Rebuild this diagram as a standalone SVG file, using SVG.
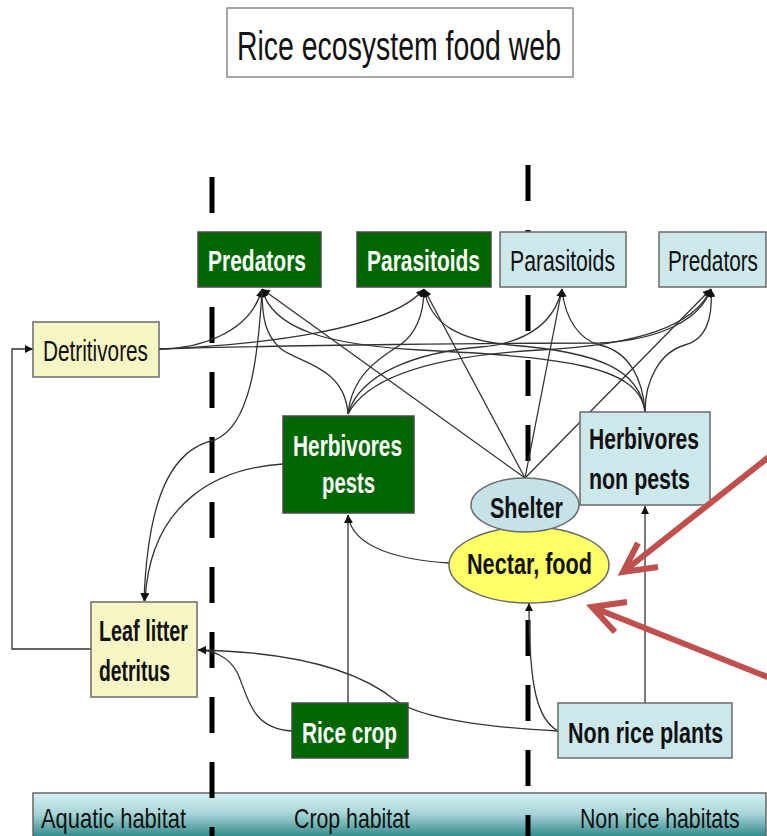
<svg xmlns="http://www.w3.org/2000/svg" width="767" height="836" viewBox="0 0 767 836">
<style>
text{font-family:"Liberation Sans Narrow","Liberation Sans",Arial,sans-serif;font-size:29px}
text.t{font-size:40px}
text.h{font-size:28px}
.w{fill:#fff;font-weight:bold}
.b{fill:#111;font-weight:bold}
.r{fill:#111}
.dg{fill:#006600;stroke:#4a4a4a;stroke-width:1.5}
.lb{fill:#cce8eb;stroke:#6a6a6a;stroke-width:1.5}
.py{fill:#f6f6c4;stroke:#6a6a6a;stroke-width:1.5}
.c{fill:none;stroke:#333;stroke-width:1.3}
.dash{stroke:#000;stroke-width:5;stroke-dasharray:36 29}
.red{fill:none;stroke:#c0504d;stroke-width:6;stroke-linejoin:miter}
</style>
<defs>
<marker id="ah" viewBox="0 0 10 10" refX="10" refY="5" markerWidth="8" markerHeight="8" orient="auto" markerUnits="userSpaceOnUse"><path d="M0,0 L10,5 L0,10 z" fill="#111"/></marker>
<linearGradient id="bar" x1="0" y1="0" x2="0" y2="1">
<stop offset="0" stop-color="#d6eff1"/><stop offset="0.45" stop-color="#a9d6d9"/><stop offset="1" stop-color="#2b8686"/>
</linearGradient>
</defs>
<rect width="767" height="836" fill="#fff"/>

<g id="title">
<rect x="227" y="8" width="346" height="69" fill="#fff" stroke="#888" stroke-width="1.5"/>
<text class="r t" x="237" y="60" textLength="324" lengthAdjust="spacingAndGlyphs">Rice ecosystem food web</text>
</g>

<g id="habitat-bar">
<rect x="33" y="793" width="733" height="45" fill="url(#bar)" stroke="#666" stroke-width="1.5"/>
<text class="r h" x="41" y="828" textLength="145" lengthAdjust="spacingAndGlyphs">Aquatic habitat</text>
<text class="r h" x="294" y="828" textLength="116" lengthAdjust="spacingAndGlyphs">Crop habitat</text>
<text class="r h" transform="translate(580,828) scale(0.75,1)" x="0" y="0" textLength="213" lengthAdjust="spacingAndGlyphs">Non rice habitats</text>
</g>

<g id="habitat-dividers">
<line class="dash" x1="212" y1="177" x2="212" y2="836"/>
<line class="dash" x1="528" y1="165" x2="528" y2="836"/>
</g>

<g id="connectors">
<path class="c" d="M159,349 C195,349 250,335 262,289" marker-end="url(#ah)"/>
<path class="c" d="M348,414 C345,365 295,362 280,348 C266,335 262,320 262,289" marker-end="url(#ah)"/>
<path class="c" d="M645,412 C640,365 560,357 420,350 C330,345 272,330 262,289" marker-end="url(#ah)"/>
<path class="c" d="M525,478 L262,289" marker-end="url(#ah)"/>
<path class="c" d="M262,290 C258,360 250,425 215,440 C175,448 148,490 144,601" marker-end="url(#ah)"/>
<path class="c" d="M159,349 C260,345 390,330 424,289" marker-end="url(#ah)"/>
<path class="c" d="M348,414 C352,372 385,355 400,345 C415,335 424,315 424,289" marker-end="url(#ah)"/>
<path class="c" d="M645,412 C640,370 600,352 510,345 C460,340 430,325 424,289" marker-end="url(#ah)"/>
<path class="c" d="M525,478 L424,289" marker-end="url(#ah)"/>
<path class="c" d="M348,414 C360,372 420,352 480,347 C530,343 555,320 562,289" marker-end="url(#ah)"/>
<path class="c" d="M645,412 C643,380 630,352 600,345 C580,340 565,320 562,289" marker-end="url(#ah)"/>
<path class="c" d="M525,478 L562,289" marker-end="url(#ah)"/>
<path class="c" d="M348,414 C370,372 450,355 540,350 C640,345 695,325 711,289" marker-end="url(#ah)"/>
<path class="c" d="M645,412 C645,380 660,352 685,345 C705,340 713,320 711,289" marker-end="url(#ah)"/>
<path class="c" d="M525,478 L711,289" marker-end="url(#ah)"/>
<path class="c" d="M159,349 C300,345 500,343 600,343 C660,340 700,320 711,289" marker-end="url(#ah)"/>
<path class="c" d="M449,563 C400,560 352,548 348,515" marker-end="url(#ah)"/>
<path class="c" d="M348,703 L348,515" marker-end="url(#ah)"/>
<path class="c" d="M292,731 C250,729 248,695 237,672 C228,656 212,650 198,650" marker-end="url(#ah)"/>
<path class="c" d="M558,731 C480,727 420,718 395,700 C360,672 300,652 198,650" marker-end="url(#ah)"/>
<path class="c" d="M558,731 C538,720 529,690 529,603" marker-end="url(#ah)"/>
<path class="c" d="M645,703 L645,506" marker-end="url(#ah)"/>
<path class="c" d="M283,464 C220,468 150,500 145,601" marker-end="url(#ah)"/>
<path class="c" d="M91,649 H12 V349 H33" marker-end="url(#ah)"/>
</g>

<g id="predators-crop">
<rect class="dg" x="198" y="232" width="123" height="55"/>
<text class="w" x="208" y="271" textLength="98" lengthAdjust="spacingAndGlyphs">Predators</text>
</g>
<g id="parasitoids-crop">
<rect class="dg" x="357" y="232" width="134" height="55"/>
<text class="w" x="367" y="271" textLength="113" lengthAdjust="spacingAndGlyphs">Parasitoids</text>
</g>
<g id="parasitoids-nonrice">
<rect class="lb" x="500" y="232" width="126" height="55"/>
<text class="r" x="510" y="271" textLength="105" lengthAdjust="spacingAndGlyphs">Parasitoids</text>
</g>
<g id="predators-nonrice">
<rect class="lb" x="659" y="232" width="107" height="55"/>
<text class="r" transform="translate(668,271) scale(0.75,1)" x="0" y="0" textLength="120" lengthAdjust="spacingAndGlyphs">Predators</text>
</g>
<g id="detritivores">
<rect class="py" x="33" y="322" width="126" height="55"/>
<text class="r" x="43" y="361" textLength="105" lengthAdjust="spacingAndGlyphs">Detritivores</text>
</g>
<g id="herbivores-pests">
<rect class="dg" x="283" y="416" width="131" height="97"/>
<text class="w" x="293" y="456" textLength="109" lengthAdjust="spacingAndGlyphs">Herbivores</text>
<text class="w" x="322" y="493" textLength="53" lengthAdjust="spacingAndGlyphs">pests</text>
</g>
<g id="herbivores-non-pests">
<rect class="lb" x="580" y="412" width="130" height="93"/>
<text class="b" x="589" y="449" textLength="110" lengthAdjust="spacingAndGlyphs">Herbivores</text>
<text class="b" x="589" y="489" textLength="101" lengthAdjust="spacingAndGlyphs">non pests</text>
</g>
<g id="nectar-food">
<ellipse cx="529" cy="565" rx="80" ry="38" fill="#ffff66" stroke="#6a6a6a" stroke-width="1.5"/>
<text class="b" x="467" y="574" textLength="125" lengthAdjust="spacingAndGlyphs">Nectar, food</text>
</g>
<g id="shelter">
<ellipse cx="525" cy="505" rx="54" ry="27" fill="#c4e2e8" stroke="#6a6a6a" stroke-width="1.5"/>
<text class="b" x="490" y="518" textLength="73" lengthAdjust="spacingAndGlyphs">Shelter</text>
</g>
<g id="leaf-litter">
<rect class="py" x="91" y="602" width="106" height="95"/>
<text class="b" x="99" y="641" textLength="89" lengthAdjust="spacingAndGlyphs">Leaf litter</text>
<text class="b" x="99" y="681" textLength="71" lengthAdjust="spacingAndGlyphs">detritus</text>
</g>
<g id="rice-crop">
<rect class="dg" x="292" y="703" width="116" height="55"/>
<text class="w" x="302" y="743" textLength="95" lengthAdjust="spacingAndGlyphs">Rice crop</text>
</g>
<g id="non-rice-plants">
<rect class="lb" x="558" y="703" width="174" height="55"/>
<text class="b" transform="translate(568,743) scale(0.75,1)" x="0" y="0" textLength="207" lengthAdjust="spacingAndGlyphs">Non rice plants</text>
</g>

<g id="callout-arrows">
<path class="red" d="M770,456 L623,572 M638,543 L623,572 L658,567"/>
<path class="red" d="M770,678 L592,607 M627,602 L592,607 L615,632"/>
</g>
</svg>
